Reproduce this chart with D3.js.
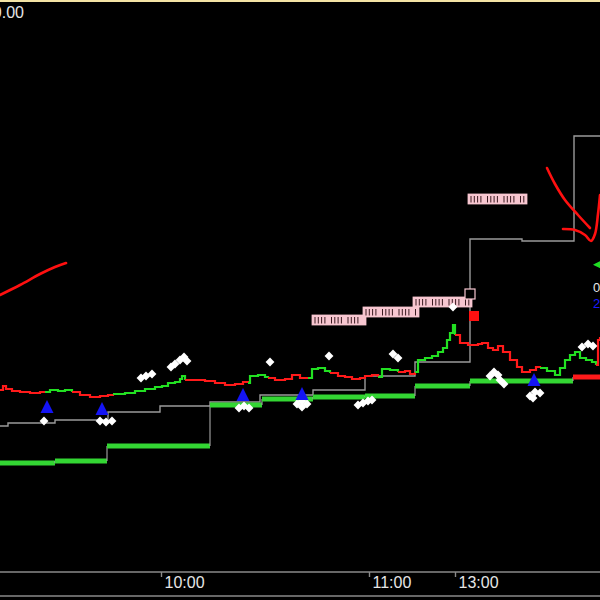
<!DOCTYPE html>
<html><head><meta charset="utf-8">
<script src="https://cdn.jsdelivr.net/npm/d3@7"></script>
<style>html,body{margin:0;padding:0;background:#000;overflow:hidden}</style>
</head><body>
<svg id="c" width="600" height="600"></svg>
<script>
// ---------- DATA (x = bar index, y = price units) ----------
const timeTicks = [80.5, 184.5, 227.5];
const timeLabels = ["10:00", "11:00", "13:00"];
const topPriceLabel = "10.00";

// gray reference step line
const grayX = [0, 4, 27.5, 54, 80, 105, 130, 156.5, 182.5, 207.5, 235, 261, 287, 300];
const grayY = [17.4, 17.7, 18.0, 18.8, 19.4, 19.8, 20.5, 21.0, 22.4, 23.8, 36.1, 35.9, 46.4, 46.4];

// thick support steps
const supX = [0, 27.5, 53.5, 105, 131, 156.5, 182.5, 207.5, 235, 286.5];
const supY = [13.7, 13.9, 15.4, 19.5, 20.1, 20.3, 20.4, 21.4, 21.9, 22.3];
const supState = ["u","u","u","u","u","u","u","u","u","d"];

// price line
const priceX = [0,1.5,3,6,10,15,20, 22.5,25,29,32.5, 36,40,45,50,54,
  56.5,62.5,67.5,72.5,77.5,81,84,87.5,90,91, 92.5,97.5,102.5,107.5,112.5,117.5,121.5,
  124,125,129,132.5, 134,137.5,142.5,146,148,150, 154,156,159,162.5,
  165,169,172.5,176,180,182.5,186, 189,191,195, 199,202.5,205,
  207.5,209,212.5,216,219,221.5,223.5,225,226.5,
  227.5,230,234,239,241,244,246.5,249,251.5,255,258.5,261,265,268,
  270,273.5,277.5,280,282.5,285,287.5,290,293,296, 298,299,300];
const priceY = [21.0,21.4,21.1,20.9,20.8,20.7,20.8, 20.8,21.0,20.9,21.0, 20.8,20.5,20.3,20.4,20.5,
  20.6,20.7,20.9,21.1,21.3,21.4,21.7,21.8,22.1,22.4, 22.0,22.0,21.9,21.7,21.5,21.6,21.8,
  21.7,22.4,22.5,22.3, 22.2,22.0,22.1,22.5,22.5,22.2, 22.2,23.1,23.2,22.9,
  22.7,22.4,22.3,22.1,22.2,22.4,22.5, 22.3,23.1,23.0, 22.8,22.9,22.6,
  22.8,24.0,24.2,24.4,24.8,25.2,26.0,26.7,27.5,
  26.5,25.7,25.5,25.6,25.7,25.2,25.0,25.4,24.8,24.0,23.3,22.8,23.0,23.3,
  23.2,22.9,22.5,23.2,24.0,24.5,24.8,24.2,24.0,23.8, 23.5,26.0,26.3];
const priceState = ["d","d","d","d","d","d","d", "u","u","u","u", "d","d","d","d","d",
  "u","u","u","u","u","u","u","u","u","u", "d","d","d","d","d","d","d",
  "u","u","u","u", "d","d","d","d","d","d", "u","u","u","u",
  "d","d","d","d","d","d","d", "u","u","u", "d","d","d",
  "u","u","u","u","u","u","u","u","u",
  "d","d","d","d","d","d","d","d","d","d","d","d","d","d",
  "u","u","u","u","u","u","u","u","u","u", "d","d","d"];

// hand-drawn red annotation strokes
const strokeLeft = [[0,30.5],[10,31.5],[20,32.6],[27.5,33.3],[33,33.7]];
const strokeRightA = [[273.5,43.2],[277.5,41.6],[282.5,40.0],[289,38.5],[295,37.2]];
const strokeRightB = [[281.5,37.1],[287.5,37.0],[292.5,36.5],[295.5,35.9],[297.5,36.6],[299,38.6],[300,40.5]];

// pink hatched zones [x0, x1, yTop, yBottom]
const zoneX0 = [234, 156, 181.5, 206.5];
const zoneX1 = [263.5, 183, 209.5, 236];
const zoneTop = [40.6, 28.5, 29.3, 30.3];
const zoneBot = [39.6, 27.5, 28.3, 29.3];
const openBox = [232.5, 237.5, 31.1, 30.1];
const redBox = [234.5, 239.5, 28.9, 27.9];

// blue triangle signals (x, base price)
const triX = [23.5, 51, 121.5, 151, 267];
const triY = [18.7, 18.5, 19.9, 20.0, 21.4];

// white diamond markers
const dotX = [22, 50,53,56, 70.5,73,76, 85.5,87.5,90,92,93.5, 135, 119.5,122,124.5,
  164.5, 148.5,151,153.5,151, 179,181.5,184,186, 196.5,199, 226.5,
  245,247,249,250,252, 265,267.5,270,266.5, 291,294,296.5];
const dotY = [17.9, 17.9,17.8,17.9, 22.2,22.4,22.6, 23.3,23.6,24.0,24.3,23.9, 23.8, 19.2,19.4,19.2,
  24.4, 19.6,19.9,19.6,19.3, 19.5,19.7,19.9,20.0, 24.6,24.2, 29.3,
  22.4,22.8,22.5,22.0,21.6, 20.4,20.8,20.7,20.2, 25.3,25.6,25.4];

// clipped right-edge labels
const edgeLabels = ["\u25C0", "0", "2"];
const edgeLabelY = [33.7, 31.3, 29.7];
const edgeColors = ["#22dd22", "#e8e8e8", "#1a1aff"];

// ---------- DRAW ----------
const W = 600, H = 600;
const svg = d3.select("#c");
const x = d3.scaleLinear().domain([0, 300]).range([0, 600]);
const y = d3.scaleLinear().domain([0, 60]).range([600, 0]);
const RED = "#ff1a1a", GREEN = "#22e022", SUPG = "#33d633";

svg.append("rect").attr("width", W).attr("height", H).attr("fill", "#000");
svg.append("rect").attr("x", 0).attr("y", 0).attr("width", W).attr("height", 2).attr("fill", "#f3e3a4");

svg.append("text").attr("x", 24).attr("y", 18).attr("text-anchor", "end")
  .attr("font-family", "Arial, 'Liberation Sans', sans-serif").attr("font-size", 16)
  .attr("fill", "#e6e6e6").text(topPriceLabel);

const g = svg.append("g");

// gray step line
const grayPts = grayX.map((d, i) => [d, grayY[i]]);
g.append("path").attr("d", d3.line().x(d => x(d[0])).y(d => y(d[1])).curve(d3.curveStepAfter)(grayPts))
  .attr("fill", "none").attr("stroke", "#9a9a9a").attr("stroke-width", 1.4);

// support steps: thin connectors + thick horizontals
supX.forEach((sx, i) => {
  const ex = i < supX.length - 1 ? supX[i + 1] : 300;
  if (i > 0) {
    g.append("line").attr("x1", x(sx)).attr("x2", x(sx)).attr("y1", y(supY[i - 1])).attr("y2", y(supY[i]))
      .attr("stroke", "#9a9a9a").attr("stroke-width", 1.2);
  }
  g.append("line").attr("x1", x(sx)).attr("x2", x(ex)).attr("y1", y(supY[i])).attr("y2", y(supY[i]))
    .attr("stroke", supState[i] === "u" ? SUPG : RED).attr("stroke-width", 5);
});

// price line in colored runs
const runs = [];
let start = 0;
for (let i = 1; i <= priceX.length; i++) {
  if (i === priceX.length || priceState[i] !== priceState[start]) {
    const end = Math.min(i, priceX.length - 1);
    const pts = [];
    for (let k = start; k <= end; k++) pts.push([priceX[k], priceY[k]]);
    runs.push({ state: priceState[start], pts });
    start = i;
  }
}
const pline = d3.line().x(d => x(d[0])).y(d => y(d[1])).curve(d3.curveStepAfter);
runs.forEach(r => {
  g.append("path").attr("d", pline(r.pts)).attr("fill", "none")
    .attr("stroke", r.state === "u" ? GREEN : RED).attr("stroke-width", 2.2);
});

// pink zones
const zones = zoneX0.map((d, i) => ({ x0: d, x1: zoneX1[i], t: zoneTop[i], b: zoneBot[i] }));
zones.forEach(z => {
  const px0 = x(z.x0), px1 = x(z.x1), py0 = y(z.t), py1 = y(z.b);
  g.append("rect").attr("x", px0).attr("y", py0).attr("width", px1 - px0).attr("height", py1 - py0)
    .attr("fill", "#f7c6d0").attr("stroke", "#f7c6d0").attr("stroke-width", 0.8);
  let k = 0;
  for (let sx = px0 + 3; sx < px1 - 2; sx += 3.3, k++) {
    if (k % 5 === 4) continue;
    g.append("line").attr("x1", sx).attr("x2", sx).attr("y1", py0 + 2).attr("y2", py1 - 1.5)
      .attr("stroke", "#3a1a20").attr("stroke-width", 1);
  }
});
g.append("rect").attr("x", x(openBox[0])).attr("y", y(openBox[2]))
  .attr("width", x(openBox[1]) - x(openBox[0])).attr("height", y(openBox[3]) - y(openBox[2]))
  .attr("fill", "#000").attr("stroke", "#f7c6d0").attr("stroke-width", 1.2);
g.append("rect").attr("x", x(redBox[0])).attr("y", y(redBox[2]))
  .attr("width", x(redBox[1]) - x(redBox[0])).attr("height", y(redBox[3]) - y(redBox[2]))
  .attr("fill", "#ff1010");

// red hand strokes
const sline = d3.line().x(d => x(d[0])).y(d => y(d[1])).curve(d3.curveCatmullRom);
[strokeLeft, strokeRightA, strokeRightB].forEach(s => {
  g.append("path").attr("d", sline(s)).attr("fill", "none").attr("stroke", "#ff1010")
    .attr("stroke-width", 2.6).attr("stroke-linecap", "round");
});

// white diamonds
const diamond = d3.symbol().type(d3.symbolDiamond2).size(50);
dotX.forEach((d, i) => {
  g.append("path").attr("d", diamond()).attr("transform", `translate(${x(d)},${y(dotY[i])})`).attr("fill", "#fff");
});

// blue triangles
triX.forEach((d, i) => {
  const cx = x(d), by = y(triY[i]);
  g.append("path").attr("d", `M${cx},${by - 13}L${cx + 6.5},${by}L${cx - 6.5},${by}Z`).attr("fill", "#1414f5");
});

// right-edge labels
edgeLabels.forEach((t, i) => {
  svg.append("text").attr("x", 593).attr("y", y(edgeLabelY[i]) + 5)
    .attr("font-family", "Arial, 'Liberation Sans', sans-serif").attr("font-size", 13)
    .attr("fill", edgeColors[i]).text(t);
});

// time axis
svg.append("line").attr("x1", 0).attr("x2", W).attr("y1", 572).attr("y2", 572).attr("stroke", "#8a8a8a").attr("stroke-width", 1.6);
svg.append("line").attr("x1", 0).attr("x2", W).attr("y1", 596).attr("y2", 596).attr("stroke", "#8a8a8a").attr("stroke-width", 1.6);
const axis = d3.axisBottom(x).tickValues(timeTicks).tickFormat((d, i) => timeLabels[i]).tickSize(5);
const ax = svg.append("g").attr("transform", "translate(0,572)").call(axis);
ax.select(".domain").remove();
ax.selectAll(".tick line").attr("stroke", "#8a8a8a").attr("stroke-width", 1.4);
ax.selectAll(".tick text").attr("fill", "#e6e6e6").attr("font-family", "Arial, 'Liberation Sans', sans-serif")
  .attr("font-size", 16).attr("text-anchor", "start").attr("x", 3).attr("dy", null).attr("y", 16);
</script>
</body></html>
